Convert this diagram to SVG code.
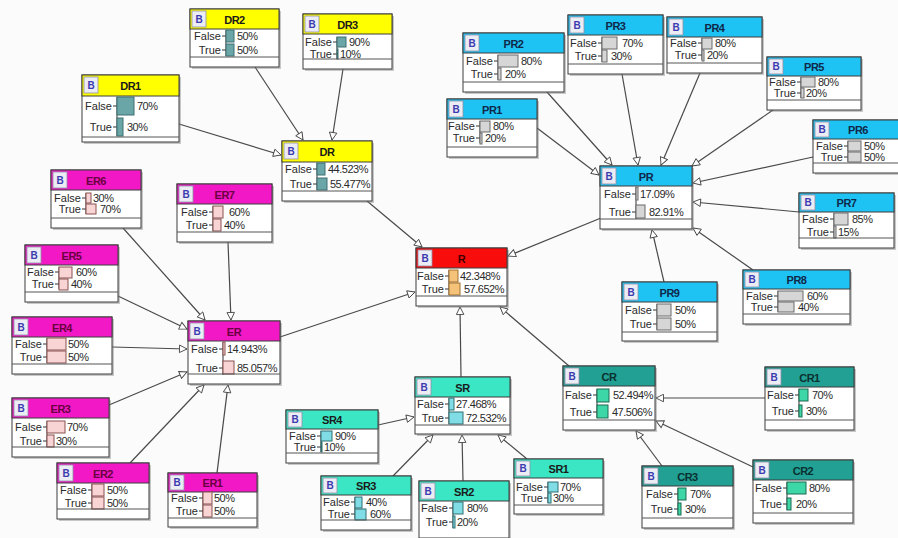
<svg xmlns="http://www.w3.org/2000/svg" width="898" height="538" viewBox="0 0 898 538">
<defs>
<marker id="ah" viewBox="-1 -1 12 12" refX="10" refY="5" markerWidth="10" markerHeight="9" markerUnits="userSpaceOnUse" orient="auto"><path d="M0,0 L10,5 L0,10 Z" fill="#fff" stroke="#444" stroke-width="1.2"/></marker>
<style>
.edge{stroke:#4a4a4a;stroke-width:1.2;fill:none;marker-end:url(#ah)}
.shadow{fill:#888;opacity:.45}
.box{fill:#fff;stroke:#3c3c3c;stroke-width:1}
.hdr{stroke:#3c3c3c;stroke-width:1}
.bicon{fill:#ececf4;stroke:#9090a8;stroke-width:.8}
.b{font-family:"Liberation Sans",Arial,sans-serif;font-size:10px;font-weight:bold;fill:#3b3bb0;text-anchor:middle}
.title{font-family:"Liberation Sans",Arial,sans-serif;font-size:11px;font-weight:bold;letter-spacing:-0.5px;text-anchor:middle;fill:#1a1a1a}
.lbl{font-family:"Liberation Sans",Arial,sans-serif;font-size:11px;fill:#2a2a2a;text-anchor:end}
.val{font-family:"Liberation Sans",Arial,sans-serif;font-size:11px;letter-spacing:-0.5px;fill:#2a2a2a}
.axis{stroke:#333;stroke-width:1;fill:none}
.sep{stroke:#555;stroke-width:1}
.bar{stroke-width:1}
.dr .hdr{fill:#ffff00}.dr .bar{fill:#6aa6a8;stroke:#3d6e70}
.pr .hdr{fill:#1ec3f3}.pr .bar{fill:#d6d6d6;stroke:#6a6a6a}.pr .title{fill:#10284a}
.rr .hdr{fill:#f80c0c}.rr .bar{fill:#f5c27a;stroke:#a07030}.rr .title{fill:#400000}
.er .hdr{fill:#f218c6}.er .bar{fill:#f9d4d4;stroke:#8a5050}.er .title{fill:#6a0040}
.sr .hdr{fill:#3ae6c4}.sr .bar{fill:#80dde6;stroke:#2f6f70}
.cr .hdr{fill:#21a093}.cr .bar{fill:#3dd6a6;stroke:#1a6a50}.cr .title{fill:#0a3030}
</style>
</defs>
<rect x="0" y="0" width="898" height="538" fill="#fbfbfb"/>
<g id="connectors">
<line class="edge" x1="179" y1="124" x2="281" y2="155"/>
<line class="edge" x1="255" y1="67" x2="303" y2="140"/>
<line class="edge" x1="343" y1="69" x2="332" y2="140"/>
<line class="edge" x1="367" y1="201" x2="422" y2="247"/>
<line class="edge" x1="601" y1="218" x2="508" y2="256"/>
<line class="edge" x1="280" y1="337" x2="415" y2="292"/>
<line class="edge" x1="461" y1="377" x2="460" y2="307"/>
<line class="edge" x1="569" y1="366" x2="500" y2="307"/>
<line class="edge" x1="537" y1="128" x2="599" y2="175"/>
<line class="edge" x1="547" y1="92" x2="612" y2="165"/>
<line class="edge" x1="622" y1="74" x2="638" y2="165"/>
<line class="edge" x1="700" y1="73" x2="661" y2="165"/>
<line class="edge" x1="773" y1="110" x2="692" y2="166"/>
<line class="edge" x1="813" y1="157" x2="693" y2="183"/>
<line class="edge" x1="799" y1="212" x2="693" y2="202"/>
<line class="edge" x1="753" y1="270" x2="693" y2="228"/>
<line class="edge" x1="664" y1="282" x2="652" y2="230"/>
<line class="edge" x1="123" y1="228" x2="205" y2="320"/>
<line class="edge" x1="228" y1="242" x2="231" y2="320"/>
<line class="edge" x1="118" y1="296" x2="187" y2="329"/>
<line class="edge" x1="112" y1="347" x2="187" y2="349"/>
<line class="edge" x1="109" y1="405" x2="187" y2="372"/>
<line class="edge" x1="130" y1="463" x2="204" y2="385"/>
<line class="edge" x1="217" y1="473" x2="228" y2="385"/>
<line class="edge" x1="378" y1="425" x2="414" y2="417"/>
<line class="edge" x1="393" y1="476" x2="433" y2="435"/>
<line class="edge" x1="463" y1="481" x2="462" y2="435"/>
<line class="edge" x1="527" y1="459" x2="498" y2="435"/>
<line class="edge" x1="765" y1="398" x2="656" y2="398"/>
<line class="edge" x1="753" y1="467" x2="656" y2="421"/>
<line class="edge" x1="662" y1="466" x2="636" y2="431"/>
</g>

<g id="DR2" class="dr">
<rect class="shadow" x="192" y="11" width="89" height="58"/><rect class="box" x="190" y="9" width="89" height="58"/>
<rect class="hdr" x="190" y="9" width="89" height="20"/><rect class="bicon" x="192" y="11" width="14" height="16"/><text class="b" x="199" y="23">B</text>
<text class="title" x="234.5" y="24">DR2</text>
<text class="lbl" x="221" y="40">False</text><text class="lbl" x="221" y="54">True</text>
<path class="axis" d="M222,36H226M222,50H226M226,30V56"/>
<rect class="bar" x="226" y="30" width="8" height="12"/><rect class="bar" x="226" y="44" width="8" height="12"/>
<text class="val" x="237" y="40">50%</text><text class="val" x="237" y="54">50%</text>
<line class="sep" x1="190" y1="57" x2="279" y2="57"/>
</g>

<g id="DR3" class="dr">
<rect class="shadow" x="305" y="16" width="89" height="55"/><rect class="box" x="303" y="14" width="89" height="55"/>
<rect class="hdr" x="303" y="14" width="89" height="20"/><rect class="bicon" x="305" y="16" width="14" height="16"/><text class="b" x="312" y="28">B</text>
<text class="title" x="347.5" y="29">DR3</text>
<text class="lbl" x="332" y="46">False</text><text class="lbl" x="332" y="58">True</text>
<path class="axis" d="M333,42H337M333,54H337M337,37V59"/>
<rect class="bar" x="337" y="37" width="9" height="10"/><rect class="bar" x="337" y="49" width="1" height="10"/>
<text class="val" x="349" y="46">90%</text><text class="val" x="340" y="58">10%</text>
<line class="sep" x1="303" y1="59" x2="392" y2="59"/>
</g>

<g id="DR1" class="dr">
<rect class="shadow" x="84" y="77" width="97" height="67"/><rect class="box" x="82" y="75" width="97" height="67"/>
<rect class="hdr" x="82" y="75" width="97" height="21"/><rect class="bicon" x="84" y="77" width="14" height="16"/><text class="b" x="91" y="89">B</text>
<text class="title" x="130.5" y="90">DR1</text>
<text class="lbl" x="112" y="110">False</text><text class="lbl" x="112" y="131">True</text>
<path class="axis" d="M113,106H117M113,127H117M117,97V136"/>
<rect class="bar" x="117" y="97" width="17" height="18"/><rect class="bar" x="117" y="118" width="6" height="18"/>
<text class="val" x="137" y="110">70%</text><text class="val" x="127" y="131">30%</text>
<line class="sep" x1="82" y1="137" x2="179" y2="137"/>
</g>

<g id="DR" class="dr">
<rect class="shadow" x="284" y="143" width="90" height="60"/><rect class="box" x="282" y="141" width="90" height="60"/>
<rect class="hdr" x="282" y="141" width="90" height="21"/><rect class="bicon" x="284" y="143" width="14" height="16"/><text class="b" x="291" y="155">B</text>
<text class="title" x="327" y="156">DR</text>
<text class="lbl" x="312" y="173">False</text><text class="lbl" x="312" y="188">True</text>
<path class="axis" d="M313,169H317M313,184H317M317,163V190"/>
<rect class="bar" x="317" y="163" width="8" height="12"/><rect class="bar" x="317" y="178" width="10" height="12"/>
<text class="val" x="328" y="173">44.523%</text><text class="val" x="330" y="188">55.477%</text>
<line class="sep" x1="282" y1="191" x2="372" y2="191"/>
</g>

<g id="R" class="rr">
<rect class="shadow" x="418" y="250" width="91" height="58"/><rect class="box" x="416" y="248" width="91" height="58"/>
<rect class="hdr" x="416" y="248" width="91" height="20"/><rect class="bicon" x="418" y="250" width="14" height="16"/><text class="b" x="425" y="262">B</text>
<text class="title" x="461.5" y="263">R</text>
<text class="lbl" x="444" y="280">False</text><text class="lbl" x="444" y="293">True</text>
<path class="axis" d="M445,276H449M445,289H449M449,270V295"/>
<rect class="bar" x="449" y="270" width="9" height="12"/><rect class="bar" x="449" y="283" width="11" height="12"/>
<text class="val" x="460" y="280">42.348%</text><text class="val" x="464" y="293">57.652%</text>
<line class="sep" x1="416" y1="296" x2="507" y2="296"/>
</g>

<g id="PR2" class="pr">
<rect class="shadow" x="465" y="35" width="101" height="59"/><rect class="box" x="463" y="33" width="101" height="59"/>
<rect class="hdr" x="463" y="33" width="101" height="20"/><rect class="bicon" x="465" y="35" width="14" height="16"/><text class="b" x="472" y="47">B</text>
<text class="title" x="513.5" y="48">PR2</text>
<text class="lbl" x="493" y="65">False</text><text class="lbl" x="493" y="78">True</text>
<path class="axis" d="M494,61H498M494,74H498M498,55V80"/>
<rect class="bar" x="498" y="55" width="20" height="12"/><rect class="bar" x="498" y="68" width="3" height="12"/>
<text class="val" x="521" y="65">80%</text><text class="val" x="505" y="78">20%</text>
<line class="sep" x1="463" y1="82" x2="564" y2="82"/>
</g>

<g id="PR3" class="pr">
<rect class="shadow" x="570" y="17" width="95" height="59"/><rect class="box" x="568" y="15" width="95" height="59"/>
<rect class="hdr" x="568" y="15" width="95" height="20"/><rect class="bicon" x="570" y="17" width="14" height="16"/><text class="b" x="577" y="29">B</text>
<text class="title" x="615.5" y="30">PR3</text>
<text class="lbl" x="597" y="47">False</text><text class="lbl" x="597" y="60">True</text>
<path class="axis" d="M598,43H602M598,56H602M602,37V62"/>
<rect class="bar" x="602" y="37" width="15" height="12"/><rect class="bar" x="602" y="50" width="5" height="12"/>
<text class="val" x="622" y="47">70%</text><text class="val" x="611" y="60">30%</text>
<line class="sep" x1="568" y1="64" x2="663" y2="64"/>
</g>

<g id="PR4" class="pr">
<rect class="shadow" x="669" y="19" width="95" height="56"/><rect class="box" x="667" y="17" width="95" height="56"/>
<rect class="hdr" x="667" y="17" width="95" height="20"/><rect class="bicon" x="669" y="19" width="14" height="16"/><text class="b" x="676" y="31">B</text>
<text class="title" x="714.5" y="32">PR4</text>
<text class="lbl" x="697" y="47">False</text><text class="lbl" x="697" y="59">True</text>
<path class="axis" d="M698,43H702M698,55H702M702,38V60"/>
<rect class="bar" x="702" y="38" width="10" height="11"/><rect class="bar" x="702" y="50" width="2" height="11"/>
<text class="val" x="715" y="47">80%</text><text class="val" x="707" y="59">20%</text>
<line class="sep" x1="667" y1="63" x2="762" y2="63"/>
</g>

<g id="PR1" class="pr">
<rect class="shadow" x="449" y="101" width="90" height="58"/><rect class="box" x="447" y="99" width="90" height="58"/>
<rect class="hdr" x="447" y="99" width="90" height="20"/><rect class="bicon" x="449" y="101" width="14" height="16"/><text class="b" x="456" y="113">B</text>
<text class="title" x="492" y="114">PR1</text>
<text class="lbl" x="475" y="130">False</text><text class="lbl" x="475" y="142">True</text>
<path class="axis" d="M476,126H480M476,138H480M480,121V143"/>
<rect class="bar" x="480" y="121" width="10" height="11"/><rect class="bar" x="480" y="133" width="2" height="11"/>
<text class="val" x="493" y="130">80%</text><text class="val" x="485" y="142">20%</text>
<line class="sep" x1="447" y1="147" x2="537" y2="147"/>
</g>

<g id="PR5" class="pr">
<rect class="shadow" x="769" y="59" width="94" height="53"/><rect class="box" x="767" y="57" width="94" height="53"/>
<rect class="hdr" x="767" y="57" width="94" height="19"/><rect class="bicon" x="769" y="59" width="14" height="15"/><text class="b" x="776" y="70">B</text>
<text class="title" x="814" y="71">PR5</text>
<text class="lbl" x="796" y="86">False</text><text class="lbl" x="796" y="97">True</text>
<path class="axis" d="M797,82H801M797,93H801M801,77V98"/>
<rect class="bar" x="801" y="77" width="14" height="10"/><rect class="bar" x="801" y="88" width="3" height="10"/>
<text class="val" x="818" y="86">80%</text><text class="val" x="806" y="97">20%</text>
<line class="sep" x1="767" y1="100" x2="861" y2="100"/>
</g>

<g id="PR6" class="pr">
<rect class="shadow" x="815" y="122" width="86" height="53"/><rect class="box" x="813" y="120" width="86" height="53"/>
<rect class="hdr" x="813" y="120" width="86" height="19"/><rect class="bicon" x="815" y="122" width="14" height="15"/><text class="b" x="822" y="133">B</text>
<text class="title" x="858" y="134">PR6</text>
<text class="lbl" x="843" y="150">False</text><text class="lbl" x="843" y="161">True</text>
<path class="axis" d="M844,146H848M844,157H848M848,141V162"/>
<rect class="bar" x="848" y="141" width="13" height="10"/><rect class="bar" x="848" y="152" width="13" height="10"/>
<text class="val" x="864" y="150">50%</text><text class="val" x="864" y="161">50%</text>
<line class="sep" x1="813" y1="163" x2="899" y2="163"/>
</g>

<g id="PR7" class="pr">
<rect class="shadow" x="801" y="195" width="95" height="55"/><rect class="box" x="799" y="193" width="95" height="55"/>
<rect class="hdr" x="799" y="193" width="95" height="19"/><rect class="bicon" x="801" y="195" width="14" height="15"/><text class="b" x="808" y="206">B</text>
<text class="title" x="846.5" y="207">PR7</text>
<text class="lbl" x="829" y="223">False</text><text class="lbl" x="829" y="236">True</text>
<path class="axis" d="M830,219H834M830,232H834M834,213V238"/>
<rect class="bar" x="834" y="213" width="14" height="12"/><rect class="bar" x="834" y="226" width="2" height="12"/>
<text class="val" x="852" y="223">85%</text><text class="val" x="838" y="236">15%</text>
<line class="sep" x1="799" y1="238" x2="894" y2="238"/>
</g>

<g id="PR" class="pr">
<rect class="shadow" x="602" y="168" width="92" height="63"/><rect class="box" x="600" y="166" width="92" height="63"/>
<rect class="hdr" x="600" y="166" width="92" height="20"/><rect class="bicon" x="602" y="168" width="14" height="16"/><text class="b" x="609" y="180">B</text>
<text class="title" x="646" y="181">PR</text>
<text class="lbl" x="631" y="198">False</text><text class="lbl" x="631" y="216">True</text>
<path class="axis" d="M632,194H636M632,212H636M636,187V219"/>
<rect class="bar" x="636" y="187" width="2" height="13"/><rect class="bar" x="636" y="205" width="9" height="13"/>
<text class="val" x="640" y="198">17.09%</text><text class="val" x="649" y="216">82.91%</text>
<line class="sep" x1="600" y1="219" x2="692" y2="219"/>
</g>

<g id="PR8" class="pr">
<rect class="shadow" x="745" y="272" width="107" height="54"/><rect class="box" x="743" y="270" width="107" height="54"/>
<rect class="hdr" x="743" y="270" width="107" height="19"/><rect class="bicon" x="745" y="272" width="14" height="15"/><text class="b" x="752" y="283">B</text>
<text class="title" x="796.5" y="284">PR8</text>
<text class="lbl" x="773" y="300">False</text><text class="lbl" x="773" y="311">True</text>
<path class="axis" d="M774,296H778M774,307H778M778,291V312"/>
<rect class="bar" x="778" y="291" width="25" height="10"/><rect class="bar" x="778" y="302" width="16" height="10"/>
<text class="val" x="807" y="300">60%</text><text class="val" x="798" y="311">40%</text>
<line class="sep" x1="743" y1="314" x2="850" y2="314"/>
</g>

<g id="PR9" class="pr">
<rect class="shadow" x="624" y="284" width="95" height="59"/><rect class="box" x="622" y="282" width="95" height="59"/>
<rect class="hdr" x="622" y="282" width="95" height="20"/><rect class="bicon" x="624" y="284" width="14" height="16"/><text class="b" x="631" y="296">B</text>
<text class="title" x="669.5" y="297">PR9</text>
<text class="lbl" x="652" y="314">False</text><text class="lbl" x="652" y="328">True</text>
<path class="axis" d="M653,310H657M653,324H657M657,304V330"/>
<rect class="bar" x="657" y="304" width="14" height="12"/><rect class="bar" x="657" y="318" width="14" height="12"/>
<text class="val" x="675" y="314">50%</text><text class="val" x="675" y="328">50%</text>
<line class="sep" x1="622" y1="332" x2="717" y2="332"/>
</g>

<g id="ER6" class="er">
<rect class="shadow" x="53" y="172" width="90" height="58"/><rect class="box" x="51" y="170" width="90" height="58"/>
<rect class="hdr" x="51" y="170" width="90" height="20"/><rect class="bicon" x="53" y="172" width="14" height="16"/><text class="b" x="60" y="184">B</text>
<text class="title" x="96" y="185">ER6</text>
<text class="lbl" x="81" y="202">False</text><text class="lbl" x="81" y="213">True</text>
<path class="axis" d="M82,198H86M82,209H86M86,193V214"/>
<rect class="bar" x="86" y="193" width="5" height="10"/><rect class="bar" x="86" y="204" width="10" height="10"/>
<text class="val" x="93" y="202">30%</text><text class="val" x="100" y="213">70%</text>
<line class="sep" x1="51" y1="218" x2="141" y2="218"/>
</g>

<g id="ER7" class="er">
<rect class="shadow" x="179" y="186" width="95" height="58"/><rect class="box" x="177" y="184" width="95" height="58"/>
<rect class="hdr" x="177" y="184" width="95" height="20"/><rect class="bicon" x="179" y="186" width="14" height="16"/><text class="b" x="186" y="198">B</text>
<text class="title" x="224.5" y="199">ER7</text>
<text class="lbl" x="208" y="216">False</text><text class="lbl" x="208" y="229">True</text>
<path class="axis" d="M209,212H213M209,225H213M213,206V231"/>
<rect class="bar" x="213" y="206" width="10" height="12"/><rect class="bar" x="213" y="219" width="8" height="12"/>
<text class="val" x="229" y="216">60%</text><text class="val" x="224" y="229">40%</text>
<line class="sep" x1="177" y1="232" x2="272" y2="232"/>
</g>

<g id="ER5" class="er">
<rect class="shadow" x="27" y="247" width="93" height="57"/><rect class="box" x="25" y="245" width="93" height="57"/>
<rect class="hdr" x="25" y="245" width="93" height="20"/><rect class="bicon" x="27" y="247" width="14" height="16"/><text class="b" x="34" y="259">B</text>
<text class="title" x="71.5" y="260">ER5</text>
<text class="lbl" x="54" y="276">False</text><text class="lbl" x="54" y="288">True</text>
<path class="axis" d="M55,272H59M55,284H59M59,267V289"/>
<rect class="bar" x="59" y="267" width="13" height="11"/><rect class="bar" x="59" y="279" width="9" height="11"/>
<text class="val" x="76" y="276">60%</text><text class="val" x="71" y="288">40%</text>
<line class="sep" x1="25" y1="292" x2="118" y2="292"/>
</g>

<g id="ER4" class="er">
<rect class="shadow" x="14" y="319" width="100" height="57"/><rect class="box" x="12" y="317" width="100" height="57"/>
<rect class="hdr" x="12" y="317" width="100" height="20"/><rect class="bicon" x="14" y="319" width="14" height="16"/><text class="b" x="21" y="331">B</text>
<text class="title" x="62" y="332">ER4</text>
<text class="lbl" x="42" y="348">False</text><text class="lbl" x="42" y="361">True</text>
<path class="axis" d="M43,344H47M43,357H47M47,338V363"/>
<rect class="bar" x="47" y="338" width="19" height="12"/><rect class="bar" x="47" y="351" width="19" height="12"/>
<text class="val" x="68" y="348">50%</text><text class="val" x="68" y="361">50%</text>
<line class="sep" x1="12" y1="364" x2="112" y2="364"/>
</g>

<g id="ER" class="er">
<rect class="shadow" x="190" y="323" width="92" height="63"/><rect class="box" x="188" y="321" width="92" height="63"/>
<rect class="hdr" x="188" y="321" width="92" height="20"/><rect class="bicon" x="190" y="323" width="14" height="16"/><text class="b" x="197" y="335">B</text>
<text class="title" x="234" y="336">ER</text>
<text class="lbl" x="218" y="353">False</text><text class="lbl" x="218" y="372">True</text>
<path class="axis" d="M219,349H223M219,368H223M223,342V375"/>
<rect class="bar" x="223" y="342" width="2" height="13"/><rect class="bar" x="223" y="361" width="11" height="13"/>
<text class="val" x="227" y="353">14.943%</text><text class="val" x="237" y="372">85.057%</text>
<line class="sep" x1="188" y1="374" x2="280" y2="374"/>
</g>

<g id="ER3" class="er">
<rect class="shadow" x="14" y="400" width="97" height="59"/><rect class="box" x="12" y="398" width="97" height="59"/>
<rect class="hdr" x="12" y="398" width="97" height="20"/><rect class="bicon" x="14" y="400" width="14" height="16"/><text class="b" x="21" y="412">B</text>
<text class="title" x="60.5" y="413">ER3</text>
<text class="lbl" x="42" y="431">False</text><text class="lbl" x="42" y="445">True</text>
<path class="axis" d="M43,427H47M43,441H47M47,421V447"/>
<rect class="bar" x="47" y="421" width="18" height="12"/><rect class="bar" x="47" y="435" width="7" height="12"/>
<text class="val" x="67" y="431">70%</text><text class="val" x="56" y="445">30%</text>
<line class="sep" x1="12" y1="447" x2="109" y2="447"/>
</g>

<g id="ER2" class="er">
<rect class="shadow" x="59" y="465" width="92" height="56"/><rect class="box" x="57" y="463" width="92" height="56"/>
<rect class="hdr" x="57" y="463" width="92" height="20"/><rect class="bicon" x="59" y="465" width="14" height="16"/><text class="b" x="66" y="477">B</text>
<text class="title" x="103" y="478">ER2</text>
<text class="lbl" x="87" y="494">False</text><text class="lbl" x="87" y="507">True</text>
<path class="axis" d="M88,490H92M88,503H92M92,484V509"/>
<rect class="bar" x="92" y="484" width="12" height="12"/><rect class="bar" x="92" y="497" width="12" height="12"/>
<text class="val" x="107" y="494">50%</text><text class="val" x="107" y="507">50%</text>
<line class="sep" x1="57" y1="509" x2="149" y2="509"/>
</g>

<g id="ER1" class="er">
<rect class="shadow" x="170" y="475" width="89" height="54"/><rect class="box" x="168" y="473" width="89" height="54"/>
<rect class="hdr" x="168" y="473" width="89" height="19"/><rect class="bicon" x="170" y="475" width="14" height="15"/><text class="b" x="177" y="486">B</text>
<text class="title" x="212.5" y="487">ER1</text>
<text class="lbl" x="198" y="502">False</text><text class="lbl" x="198" y="515">True</text>
<path class="axis" d="M199,498H203M199,511H203M203,492V517"/>
<rect class="bar" x="203" y="492" width="9" height="12"/><rect class="bar" x="203" y="505" width="9" height="12"/>
<text class="val" x="214" y="502">50%</text><text class="val" x="214" y="515">50%</text>
<line class="sep" x1="168" y1="518" x2="257" y2="518"/>
</g>

<g id="SR" class="sr">
<rect class="shadow" x="417" y="379" width="95" height="57"/><rect class="box" x="415" y="377" width="95" height="57"/>
<rect class="hdr" x="415" y="377" width="95" height="20"/><rect class="bicon" x="417" y="379" width="14" height="16"/><text class="b" x="424" y="391">B</text>
<text class="title" x="462.5" y="392">SR</text>
<text class="lbl" x="444" y="408">False</text><text class="lbl" x="444" y="422">True</text>
<path class="axis" d="M445,404H449M445,418H449M449,398V424"/>
<rect class="bar" x="449" y="398" width="5" height="12"/><rect class="bar" x="449" y="412" width="14" height="12"/>
<text class="val" x="456" y="408">27.468%</text><text class="val" x="466" y="422">72.532%</text>
<line class="sep" x1="415" y1="425" x2="510" y2="425"/>
</g>

<g id="SR4" class="sr">
<rect class="shadow" x="288" y="412" width="92" height="53"/><rect class="box" x="286" y="410" width="92" height="53"/>
<rect class="hdr" x="286" y="410" width="92" height="19"/><rect class="bicon" x="288" y="412" width="14" height="15"/><text class="b" x="295" y="423">B</text>
<text class="title" x="332" y="424">SR4</text>
<text class="lbl" x="316" y="440">False</text><text class="lbl" x="316" y="451">True</text>
<path class="axis" d="M317,436H321M317,447H321M321,431V452"/>
<rect class="bar" x="321" y="431" width="11" height="10"/><rect class="bar" x="321" y="442" width="1" height="10"/>
<text class="val" x="335" y="440">90%</text><text class="val" x="324" y="451">10%</text>
<line class="sep" x1="286" y1="453" x2="378" y2="453"/>
</g>

<g id="SR3" class="sr">
<rect class="shadow" x="323" y="478" width="90" height="54"/><rect class="box" x="321" y="476" width="90" height="54"/>
<rect class="hdr" x="321" y="476" width="90" height="19"/><rect class="bicon" x="323" y="478" width="14" height="15"/><text class="b" x="330" y="489">B</text>
<text class="title" x="366" y="490">SR3</text>
<text class="lbl" x="350" y="506">False</text><text class="lbl" x="350" y="518">True</text>
<path class="axis" d="M351,502H355M351,514H355M355,497V519"/>
<rect class="bar" x="355" y="497" width="7" height="11"/><rect class="bar" x="355" y="509" width="11" height="11"/>
<text class="val" x="366" y="506">40%</text><text class="val" x="370" y="518">60%</text>
<line class="sep" x1="321" y1="520" x2="411" y2="520"/>
</g>

<g id="SR2" class="sr">
<rect class="shadow" x="421" y="483" width="90" height="57"/><rect class="box" x="419" y="481" width="90" height="57"/>
<rect class="hdr" x="419" y="481" width="90" height="20"/><rect class="bicon" x="421" y="483" width="14" height="16"/><text class="b" x="428" y="495">B</text>
<text class="title" x="464" y="496">SR2</text>
<text class="lbl" x="448" y="512">False</text><text class="lbl" x="448" y="526">True</text>
<path class="axis" d="M449,508H453M449,522H453M453,502V528"/>
<rect class="bar" x="453" y="502" width="10" height="12"/><rect class="bar" x="453" y="516" width="2" height="12"/>
<text class="val" x="467" y="512">80%</text><text class="val" x="457" y="526">20%</text>
</g>

<g id="SR1" class="sr">
<rect class="shadow" x="516" y="461" width="89" height="55"/><rect class="box" x="514" y="459" width="89" height="55"/>
<rect class="hdr" x="514" y="459" width="89" height="19"/><rect class="bicon" x="516" y="461" width="14" height="15"/><text class="b" x="523" y="472">B</text>
<text class="title" x="558.5" y="473">SR1</text>
<text class="lbl" x="543" y="491">False</text><text class="lbl" x="543" y="502">True</text>
<path class="axis" d="M544,487H548M544,498H548M548,482V503"/>
<rect class="bar" x="548" y="482" width="10" height="10"/><rect class="bar" x="548" y="493" width="3" height="10"/>
<text class="val" x="560" y="491">70%</text><text class="val" x="553" y="502">30%</text>
<line class="sep" x1="514" y1="505" x2="603" y2="505"/>
</g>

<g id="CR" class="cr">
<rect class="shadow" x="565" y="368" width="92" height="64"/><rect class="box" x="563" y="366" width="92" height="64"/>
<rect class="hdr" x="563" y="366" width="92" height="20"/><rect class="bicon" x="565" y="368" width="14" height="16"/><text class="b" x="572" y="380">B</text>
<text class="title" x="609" y="381">CR</text>
<text class="lbl" x="592" y="399">False</text><text class="lbl" x="592" y="416">True</text>
<path class="axis" d="M593,395H597M593,412H597M597,389V418"/>
<rect class="bar" x="597" y="389" width="12" height="13"/><rect class="bar" x="597" y="405" width="11" height="13"/>
<text class="val" x="613" y="399">52.494%</text><text class="val" x="612" y="416">47.506%</text>
<line class="sep" x1="563" y1="420" x2="655" y2="420"/>
</g>

<g id="CR1" class="cr">
<rect class="shadow" x="767" y="369" width="89" height="63"/><rect class="box" x="765" y="367" width="89" height="63"/>
<rect class="hdr" x="765" y="367" width="89" height="20"/><rect class="bicon" x="767" y="369" width="14" height="16"/><text class="b" x="774" y="381">B</text>
<text class="title" x="809.5" y="382">CR1</text>
<text class="lbl" x="794" y="399">False</text><text class="lbl" x="794" y="415">True</text>
<path class="axis" d="M795,395H799M795,411H799M799,389V417"/>
<rect class="bar" x="799" y="389" width="9" height="12"/><rect class="bar" x="799" y="405" width="3" height="12"/>
<text class="val" x="812" y="399">70%</text><text class="val" x="806" y="415">30%</text>
<line class="sep" x1="765" y1="420" x2="854" y2="420"/>
</g>

<g id="CR3" class="cr">
<rect class="shadow" x="644" y="468" width="91" height="62"/><rect class="box" x="642" y="466" width="91" height="62"/>
<rect class="hdr" x="642" y="466" width="91" height="20"/><rect class="bicon" x="644" y="468" width="14" height="16"/><text class="b" x="651" y="480">B</text>
<text class="title" x="687.5" y="481">CR3</text>
<text class="lbl" x="673" y="498">False</text><text class="lbl" x="673" y="513">True</text>
<path class="axis" d="M674,494H678M674,509H678M678,488V515"/>
<rect class="bar" x="678" y="488" width="8" height="12"/><rect class="bar" x="678" y="503" width="3" height="12"/>
<text class="val" x="690" y="498">70%</text><text class="val" x="685" y="513">30%</text>
<line class="sep" x1="642" y1="518" x2="733" y2="518"/>
</g>

<g id="CR2" class="cr">
<rect class="shadow" x="755" y="462" width="100" height="63"/><rect class="box" x="753" y="460" width="100" height="63"/>
<rect class="hdr" x="753" y="460" width="100" height="20"/><rect class="bicon" x="755" y="462" width="14" height="16"/><text class="b" x="762" y="474">B</text>
<text class="title" x="803" y="475">CR2</text>
<text class="lbl" x="782" y="492">False</text><text class="lbl" x="782" y="508">True</text>
<path class="axis" d="M783,488H787M783,504H787M787,482V510"/>
<rect class="bar" x="787" y="482" width="19" height="12"/><rect class="bar" x="787" y="498" width="4" height="12"/>
<text class="val" x="809" y="492">80%</text><text class="val" x="796" y="508">20%</text>
<line class="sep" x1="753" y1="513" x2="853" y2="513"/>
</g>
</svg>
